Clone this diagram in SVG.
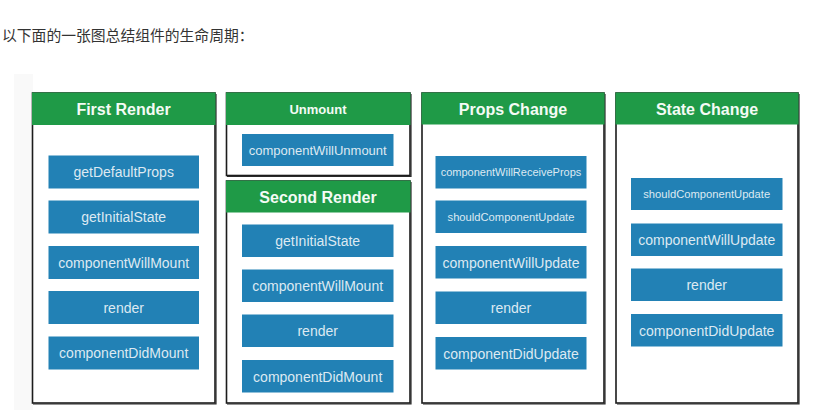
<svg xmlns="http://www.w3.org/2000/svg" width="827" height="419" viewBox="0 0 827 419">
<style>
.panel{fill:#ffffff;stroke:#1c1c1c;stroke-width:1.6}
.shadow{fill:none;stroke:#2a2a2a;stroke-width:1.2}
.hdr{fill:#1f9a47}
.htxt{font-family:"Liberation Sans",Arial,sans-serif;font-weight:bold;fill:#f4fbf5;text-anchor:middle}
.box{fill:#2281b5}
.btxt{font-family:"Liberation Sans",Arial,sans-serif;fill:#dde9f2;text-anchor:middle;font-size:14px}
.sm{font-size:11px}
</style>
<rect width="827" height="419" fill="#ffffff"/>
<text x="2" y="41" font-family="'Noto Sans CJK SC','Noto Sans CJK JP',sans-serif" font-size="14.8" fill="#333333">以下面的一张图总结组件的生命周期：</text>
<rect x="14" y="74" width="19" height="336" fill="#f9f9f9"/>

<g id="first-render">
<rect class="panel" x="32.5" y="93" width="182.5" height="310"/>
<path class="shadow" d="M216 94 V404 H33"/>
<rect class="hdr" x="32" y="92.5" width="183.5" height="32.5"/>
<text class="htxt" x="123.5" y="115" font-size="16">First Render</text>
<rect class="box" x="48.5" y="155.5" width="150.5" height="33"/>
<text class="btxt" x="123.7" y="177">getDefaultProps</text>
<rect class="box" x="48.5" y="200.5" width="150.5" height="33"/>
<text class="btxt" x="123.7" y="222">getInitialState</text>
<rect class="box" x="48.5" y="246" width="150.5" height="33"/>
<text class="btxt" x="123.7" y="267.5">componentWillMount</text>
<rect class="box" x="48.5" y="291" width="150.5" height="33"/>
<text class="btxt" x="123.7" y="312.5">render</text>
<rect class="box" x="48.5" y="336.5" width="150.5" height="33"/>
<text class="btxt" x="123.7" y="358">componentDidMount</text>
</g>

<g id="unmount">
<rect class="panel" x="226.5" y="93" width="183.5" height="82.5"/>
<path class="shadow" d="M411 94 V176.5 H227"/>
<rect class="hdr" x="226" y="92.5" width="184.5" height="32.5"/>
<text class="htxt" x="318" y="113.5" font-size="13">Unmount</text>
<rect class="box" x="242" y="134" width="151.5" height="32"/>
<text class="btxt" x="317.7" y="155" style="font-size:13px">componentWillUnmount</text>
</g>

<g id="second-render">
<rect class="panel" x="226.5" y="181" width="183.5" height="222"/>
<path class="shadow" d="M411 182 V404 H227"/>
<rect class="hdr" x="226" y="180.5" width="184.5" height="32"/>
<text class="htxt" x="318" y="203" font-size="16">Second Render</text>
<rect class="box" x="242" y="224.5" width="151.5" height="32.5"/>
<text class="btxt" x="317.7" y="246">getInitialState</text>
<rect class="box" x="242" y="269.5" width="151.5" height="32.5"/>
<text class="btxt" x="317.7" y="291">componentWillMount</text>
<rect class="box" x="242" y="314.5" width="151.5" height="32.5"/>
<text class="btxt" x="317.7" y="336">render</text>
<rect class="box" x="242" y="360" width="151.5" height="32.5"/>
<text class="btxt" x="317.7" y="381.5">componentDidMount</text>
</g>

<g id="props-change">
<rect class="panel" x="422" y="93" width="182" height="310"/>
<path class="shadow" d="M605 94 V404 H423"/>
<rect class="hdr" x="421.5" y="92.5" width="183" height="32"/>
<text class="htxt" x="513" y="115" font-size="16">Props Change</text>
<rect class="box" x="435.5" y="156" width="151" height="32.5"/>
<text class="btxt sm" x="511" y="176">componentWillReceiveProps</text>
<rect class="box" x="435.5" y="200.5" width="151" height="32.5"/>
<text class="btxt" x="511" y="220.5" style="font-size:11.2px">shouldComponentUpdate</text>
<rect class="box" x="435.5" y="246" width="151" height="32.5"/>
<text class="btxt" x="511" y="267.5">componentWillUpdate</text>
<rect class="box" x="435.5" y="291.5" width="151" height="32.5"/>
<text class="btxt" x="511" y="313">render</text>
<rect class="box" x="435.5" y="337" width="151" height="32.5"/>
<text class="btxt" x="511" y="358.5">componentDidUpdate</text>
</g>

<g id="state-change">
<rect class="panel" x="616" y="93" width="182" height="310"/>
<path class="shadow" d="M799 94 V404 H617"/>
<rect class="hdr" x="615.5" y="92.5" width="183" height="32"/>
<text class="htxt" x="707" y="115" font-size="16">State Change</text>
<rect class="box" x="631" y="178" width="151.5" height="32"/>
<text class="btxt" x="706.7" y="198" style="font-size:11.2px">shouldComponentUpdate</text>
<rect class="box" x="631" y="223.5" width="151.5" height="32.5"/>
<text class="btxt" x="706.7" y="245">componentWillUpdate</text>
<rect class="box" x="631" y="268.5" width="151.5" height="32.5"/>
<text class="btxt" x="706.7" y="290">render</text>
<rect class="box" x="631" y="314" width="151.5" height="32.5"/>
<text class="btxt" x="706.7" y="335.5">componentDidUpdate</text>
</g>

<g id="connectors"></g>
</svg>
